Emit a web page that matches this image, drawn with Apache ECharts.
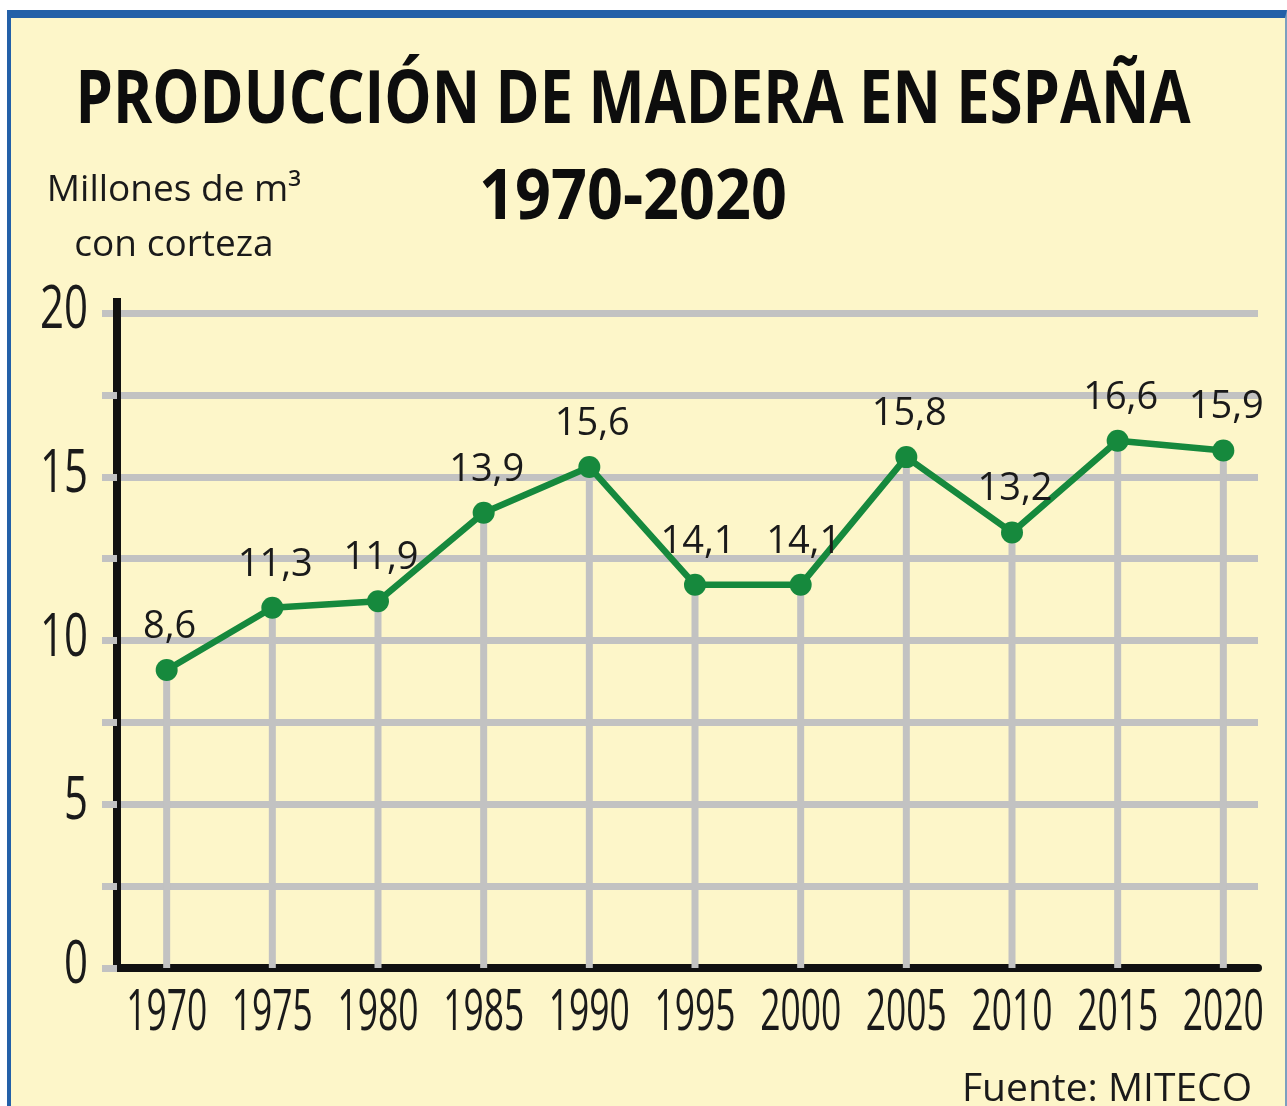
<!DOCTYPE html>
<html>
<head>
<meta charset="utf-8">
<script src="https://cdn.jsdelivr.net/npm/echarts@6/dist/echarts.min.js"></script>
<style>
  html, body { margin: 0; padding: 0; background: #ffffff; }
  #frame {
    position: absolute; left: 7px; top: 10px; width: 1274px; height: 1096px;
    background: #fdf6c9;
    border-top: 8px solid #2360a8; border-left: 4px solid #2360a8; border-right: 2px solid #7c9fbf;
  }
  #main { position: absolute; left: 0; top: 0; width: 1287px; height: 1106px; }
</style>
</head>
<body>
<div id="frame"></div>
<div id="main"></div>
<script>
// años y valores (posición de los puntos tal como aparecen en el gráfico)
const years = [1970, 1975, 1980, 1985, 1990, 1995, 2000, 2005, 2010, 2015, 2020];
const values = [9.1, 11.0, 11.2, 13.9, 15.3, 11.7, 11.7, 15.6, 13.3, 16.1, 15.8];
// etiquetas impresas sobre cada punto
const labels = ['8,6', '11,3', '11,9', '13,9', '15,6', '14,1', '14,1', '15,8', '13,2', '16,6', '15,9'];
const yTicks = [0, 5, 10, 15, 20];

const xMin = 1967.65, xMax = 2021.64;

const chart = echarts.init(document.getElementById('main'), null, { renderer: 'canvas' });

const pts = years.map((y, i) => [y, values[i]]);
const green = '#16893d';
const humanist = "'Open Sans', 'Noto Sans', sans-serif";

// textos algo condensados, como en el original
const titleText = 'PRODUCCIÓN DE MADERA EN ESPAÑA';
const subText = '1970-2020';
const titleFont = "bold 74px 'Open Sans'";
const subFont = "bold 70px 'Open Sans'";
const xLabFont = "56px 'Open Sans'";
const yLabFont = "60px 'Open Sans'";
const mctx = document.createElement('canvas').getContext('2d');
function fitScale(text, font, width) {
  mctx.font = font;
  return width / mctx.measureText(text).width;
}
const xLabScale = fitScale('1970', xLabFont, 81);
const yLabScale = fitScale('20', yLabFont, 48);

let option = {
  backgroundColor: 'transparent',
  animation: false,
  title: [{
    text: 'Millones de m³\ncon corteza',
    left: 174, top: 163, padding: 0, textAlign: 'center',
    textStyle: { fontFamily: humanist, fontWeight: 'normal', fontSize: 37, lineHeight: 55, color: '#1a1a1a' }
  }, {
    text: 'Fuente: MITECO',
    right: 35, top: 1070, padding: 0,
    textStyle: { fontFamily: humanist, fontWeight: 'normal', fontSize: 39, lineHeight: 40, color: '#1a1a1a' }
  }],
  graphic: [{
    type: 'text',
    x: 633, y: 102,
    scaleX: fitScale(titleText, titleFont, 1115),
    style: { text: titleText, font: titleFont, fill: '#0d0d0d', align: 'center', verticalAlign: 'middle' }
  }, {
    type: 'text',
    x: 633, y: 199,
    scaleX: fitScale(subText, subFont, 308),
    style: { text: subText, font: subFont, fill: '#0d0d0d', align: 'center', verticalAlign: 'middle' }
  }],
  grid: {
    left: 117,
    right: 29,
    top: 313,
    bottom: 138,
    containLabel: false
  },
  xAxis: {
    type: 'value',
    min: xMin,
    max: xMax,
    axisLine: {
      show: true,
      lineStyle: { color: '#111', width: 8 }
    },
    axisTick: { show: false },
    splitLine: { show: false },
    axisLabel: { show: false }
  },
  yAxis: {
    type: 'value',
    min: 0,
    max: 20,
    interval: 2.5,
    axisLine: {
      show: true,
      symbol: ['none', 'rect'],
      symbolSize: [8, 30],
      lineStyle: { color: '#111', width: 8 }
    },
    axisTick: {
      show: true,
      inside: false,
      length: 15,
      lineStyle: { color: '#c2c2c2', width: 7 }
    },
    splitLine: {
      show: true,
      lineStyle: { color: '#c2c2c2', width: 7 }
    },
    axisLabel: { show: false }
  },
  series: [{
    // líneas verticales grises desde cada punto hasta el eje
    name: 'drop',
    type: 'bar',
    data: pts,
    barWidth: 7,
    silent: true,
    z: 1,
    itemStyle: { color: '#c2c2c2' }
  }, {
    name: 'Producción',
    type: 'line',
    data: pts,
    z: 3,
    symbol: 'circle',
    symbolSize: 22,
    lineStyle: { color: green, width: 6.5 },
    itemStyle: { color: green },
    label: {
      show: true,
      position: 'top',
      distance: 12,
      offset: [3, 0],
      fontFamily: humanist,
      fontSize: 38,
      lineHeight: 40,
      color: '#1a1a1a',
      formatter: p => labels[p.dataIndex]
    }
  }, {
    // rótulos del eje X (condensados)
    name: 'xLabels',
    type: 'custom',
    silent: true,
    clip: false,
    data: years.map(y => [y, 0]),
    renderItem: (params, api) => {
      const p = api.coord([api.value(0), 0]);
      return {
        type: 'text',
        x: p[0], y: p[1] + 46,
        scaleX: xLabScale,
        style: { text: String(api.value(0)), font: xLabFont, fill: '#1a1a1a', align: 'center', verticalAlign: 'middle' }
      };
    }
  }, {
    // rótulos del eje Y (condensados)
    name: 'yLabels',
    type: 'custom',
    silent: true,
    clip: false,
    data: yTicks.map(v => [xMin, v]),
    renderItem: (params, api) => {
      const p = api.coord([xMin, api.value(1)]);
      return {
        type: 'text',
        x: p[0] - 29, y: p[1] - 2,
        scaleX: yLabScale,
        style: { text: String(api.value(1)), font: yLabFont, fill: '#1a1a1a', align: 'right', verticalAlign: 'middle' }
      };
    }
  }]
};
chart.setOption(option);
</script>
</body>
</html>
